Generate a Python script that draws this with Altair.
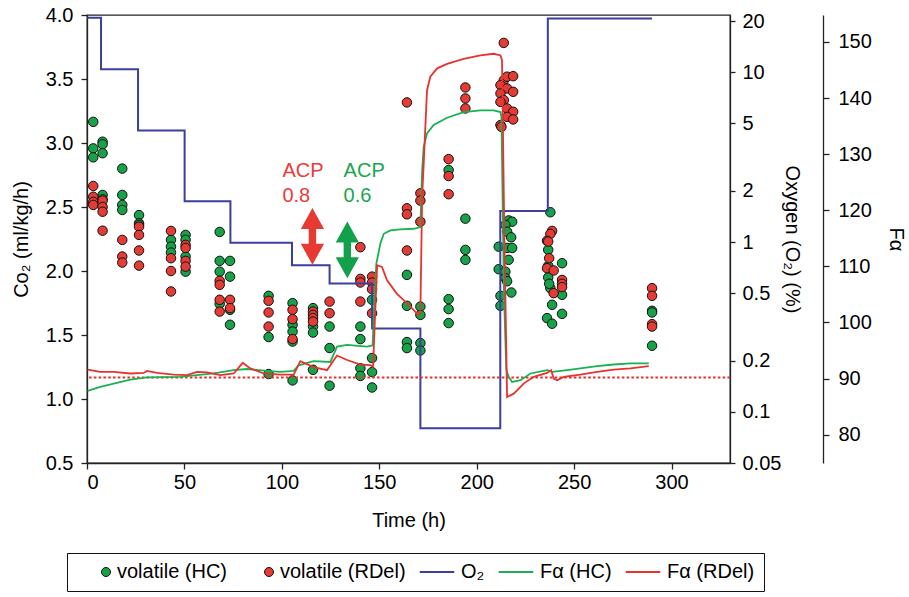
import altair as alt
import pandas as pd

FONT = "Liberation Sans"

# ---------------- data ----------------
# volatile CO2 (ml/kg/h), HC strain (green circles)
hc_time = [
    3.2, 3.2, 3.2,
    8.0, 8.0, 8.0, 8.0, 8.0,
    18.1, 18.1, 18.1, 18.1,
    26.7, 26.7, 26.7,
    43.1, 43.1, 43.1,
    50.6, 50.6, 50.6, 50.6,
    68.1, 68.1, 68.1, 68.1,
    73.4, 73.4, 73.4, 73.4,
    93.2, 93.2, 93.2,
    105.5, 105.5, 105.5, 105.5, 105.5,
    116.0, 116.0, 116.0, 116.0,
    124.5, 124.5, 124.5,
    140.3, 140.3, 140.3, 140.3,
    146.3, 146.3, 146.3, 146.3,
    164.2, 164.2, 164.2, 164.2,
    171.1, 171.1, 171.1, 171.1,
    185.6, 185.6, 185.6, 185.6,
    194.2, 194.2, 194.2,
    216.4, 218.2, 214.7, 215.6, 217.7, 211.3, 215.6, 218.2, 216.4, 211.3, 214.7, 214.7, 215.6, 217.8, 212.2, 212.2,
    237.8, 236.7, 243.8, 236.7, 237.8, 243.8, 238.7, 243.8, 236.1, 238.7, 236.7, 237.2,
    290.0, 290.0, 290.0,
]
hc_co2 = [
    3.165, 2.958, 2.888,
    3.01, 2.99, 2.92, 2.594, 2.56,
    2.80, 2.594, 2.516, 2.477,
    2.437, 2.373, 2.36,
    2.243, 2.19, 2.144,
    2.282, 2.243, 2.113, 1.995,
    2.305, 2.079, 1.995, 1.743,
    2.079, 1.956, 1.697, 1.58,
    1.806, 1.484, 1.195,
    1.749, 1.58, 1.527, 1.449, 1.145,
    1.71, 1.566, 1.519, 1.228,
    1.566, 1.398, 1.104,
    1.566, 1.468, 1.24, 1.18,
    1.775, 1.32, 1.21, 1.09,
    1.97, 1.728, 1.445, 1.398,
    1.722, 1.657, 1.437, 1.379,
    2.789, 1.78, 1.702, 1.593,
    2.409, 2.165, 2.087,
    2.395, 2.385, 2.36, 2.307, 2.263, 2.19, 2.18, 2.18, 2.087, 2.014, 1.995, 1.944, 1.92, 1.832, 1.806, 1.728,
    2.459, 2.165, 2.061, 1.95, 1.866, 1.814, 1.736, 1.665, 1.632, 1.588, 2.04, 1.90,
    1.689, 1.676, 1.416,
]

# volatile CO2 (ml/kg/h), RDel strain (red circles)
rdel_time = [
    3.2, 3.2, 3.2, 3.2,
    8.0, 8.0, 8.0, 8.0,
    18.1, 18.1, 18.1,
    26.7, 26.7, 26.7, 26.7,
    43.1, 43.1, 43.1, 43.1,
    50.6, 50.6, 50.6, 50.6,
    68.1, 68.1, 68.1, 68.1,
    73.4, 73.4,
    93.2, 93.2, 93.2,
    105.5, 105.5, 105.5,
    116.0, 116.0, 116.0, 116.0,
    124.5, 124.5,
    140.3, 140.3, 140.3, 140.3,
    146.3, 146.3, 146.3, 146.3,
    164.2, 164.2, 164.2, 164.2,
    171.1, 171.1, 171.1,
    185.6, 185.6, 185.6,
    194.2, 194.2, 194.2,
    213.9, 213.9, 215.6, 218.7, 212.2, 215.6, 218.7, 212.2, 213.9, 212.2, 215.6, 218.7, 215.6, 218.7, 212.2, 212.7,
    238.7, 237.8, 236.1, 236.7, 237.2, 236.1, 239.5, 243.8, 243.8, 243.8, 239.5,
    290.0, 290.0, 290.0, 290.0,
]
rdel_co2 = [
    2.664, 2.58, 2.54, 2.516,
    2.55, 2.50, 2.463, 2.315,
    2.243, 2.113, 2.066,
    2.346, 2.282, 2.16, 2.042,
    2.313, 2.10, 2.00, 1.84,
    2.204, 2.18, 2.079, 2.034,
    1.923, 1.892, 1.775, 1.683,
    1.775, 1.71,
    1.767, 1.676, 1.566,
    1.697, 1.624, 1.468,
    1.683, 1.657, 1.632, 1.605,
    1.761, 1.67,
    2.186, 1.938, 1.91, 1.761,
    1.956, 1.91, 1.858, 1.67,
    3.317, 2.49, 2.443, 2.16,
    2.607, 2.55, 2.385,
    2.874, 2.742, 2.60,
    3.434, 3.348, 3.27,
    3.782, 3.49, 3.518, 3.522, 3.452, 3.426, 3.40, 3.387, 3.335, 3.321, 3.27, 3.244, 3.204, 3.184, 3.14, 3.126,
    2.313, 2.29, 2.236, 2.23, 2.10, 2.022, 2.004, 1.93, 1.90, 1.874, 1.827,
    1.866, 1.806, 1.585, 1.566,
]

# oxygen set-point (%), step function
o2_time = [0, 7.2, 26.2, 50.1, 73.6, 105.2, 124.5, 146.3, 171.1, 212.1, 236.5, 290]
o2_pct = [20.9, 10.4, 4.54, 1.74, 0.99, 0.73, 0.57, 0.31, 0.08, 1.52, 20.7, 20.7]

# F-alpha traces
fa_hc_time = [0.3, 6.8, 13.7, 22.2, 30.8, 47.9, 65.0, 75.3, 82.1, 92.4, 99.2, 106.1, 108.6, 116.3, 124.9,
              126.6, 128.3, 133.5, 143.7, 146.6, 147.6, 148.5, 150.6, 152.3, 155.7, 160.8, 167.7, 171.1,
              172.0, 172.8, 174.5, 177.9, 184.8, 193.3, 201.9, 208.7, 212.2, 212.7, 214.0, 215.2, 216.4,
              218.2, 222.5, 227.6, 236.1, 238.7, 246.4, 253.2, 261.8, 270.3, 278.9, 288.3]
fa_hc = [87.8, 88.5, 89.1, 89.8, 90.2, 90.3, 90.9, 91.5, 91.7, 91.35, 91.2, 91.35, 92.35, 93.1, 92.95,
         94.3, 95.7, 96.0, 95.7, 95.9, 105.0, 110.5, 114.1, 115.8, 116.4, 116.6, 116.7, 117.0,
         127.1, 131.3, 133.7, 135.2, 136.5, 137.5, 137.8, 137.8, 137.5, 136.6, 105.0, 91.5, 90.3,
         89.4, 89.7, 90.9, 91.5, 91.2, 91.5, 91.8, 92.2, 92.5, 92.7, 92.7]
fa_rdel_time = [0.3, 6.8, 13.7, 22.2, 29.1, 30.8, 35.9, 44.5, 51.3, 56.5, 61.6, 68.4, 75.3, 79.9, 83.8,
                90.7, 99.2, 106.1, 109.5, 116.3, 123.2, 128.3, 133.5, 140.3, 145.4, 146.8, 147.7, 148.9,
                151.4, 154.0, 159.1, 164.3, 167.7, 170.2, 171.1, 172.0, 172.8, 174.5, 176.2, 179.7, 184.8,
                193.3, 201.9, 208.7, 212.2, 213.0, 214.2, 215.6, 219.0, 224.1, 229.3, 236.1, 238.2, 239.5,
                241.3, 244.7, 253.2, 261.8, 270.3, 278.9, 288.3]
fa_rdel = [91.6, 91.2, 91.2, 90.9, 91.0, 91.35, 91.0, 90.7, 90.6, 91.2, 91.1, 90.6, 90.9, 92.8, 91.8,
           90.9, 90.7, 90.7, 93.1, 92.05, 91.5, 94.1, 93.3, 92.5, 92.4, 92.05, 100.0, 110.2,
           109.9, 107.5, 105.1, 103.4, 102.2, 101.3, 101.9, 122.4, 128.3, 141.4, 143.8, 145.3, 146.1,
           147.0, 147.6, 147.9, 147.6, 146.7, 115.0, 86.7, 87.3, 89.1, 90.3, 91.0, 91.5, 90.0,
           89.7, 90.3, 90.7, 91.2, 91.6, 91.8, 92.2]
fa_reference = [90.2]

# annotations
ann_text = ["ACP", "0.8", "ACP", "0.6"]
ann_time = [100.3, 100.3, 131.7, 131.7]
ann_co2 = [2.736, 2.541, 2.736, 2.541]
ann_color = ["#ec3b3b", "#ec3b3b", "#1aa64e", "#1aa64e"]
arrow_time = [115.7, 133.6]
arrow_co2 = [2.27, 2.165]
arrow_color = ["#e63a33", "#12a04b"]

LABELS = ["volatile (HC)", "volatile (RDel)", "O₂", "Fα (HC)", "Fα (RDel)"]
COLORS = ["#17a24a", "#e53b35", "#3b3f9e", "#19b152", "#e8322e"]
OUTLINES = ["#111111", "#111111", "#3b3f9e", "#19b152", "#e8322e"]

# legend glyphs: a circle sitting just before its label, and a line segment
DOT = "M2.579,0A0.474,0.474 0 1,1 1.631,0A0.474,0.474 0 1,1 2.579,0Z"
SEG = "M-1.053,-0.053L2.526,-0.053L2.526,0.053L-1.053,0.053Z"
GLYPHS = [DOT, DOT, SEG, SEG, SEG]

# ---------------- tables ----------------
hc_df = pd.DataFrame({"t": hc_time, "co2": hc_co2})
rdel_df = pd.DataFrame({"t": rdel_time, "co2": rdel_co2})
o2_df = pd.DataFrame({"t": o2_time, "o2": o2_pct})
fa_hc_df = pd.DataFrame({"t": fa_hc_time, "fa": fa_hc})
fa_rdel_df = pd.DataFrame({"t": fa_rdel_time, "fa": fa_rdel})
ref_df = pd.DataFrame({"fa": fa_reference})
ann_df = pd.DataFrame({"t": ann_time, "co2": ann_co2, "s": ann_text, "c": ann_color})
arrow_df = pd.DataFrame({"t": arrow_time, "co2": arrow_co2, "c": arrow_color})
legend_df = pd.DataFrame({"series": LABELS})

xscale = alt.Scale(domain=[0, 330], nice=False, zero=False)
co2_scale = alt.Scale(domain=[0.5, 4.0], nice=False, zero=False)
o2_scale = alt.Scale(type="log", domain=[0.05, 21.7], nice=False)
fa_scale = alt.Scale(domain=[74.94, 154.81], nice=False, zero=False)

x_axis = alt.Axis(orient="bottom", values=[0, 50, 100, 150, 200, 250, 300], title="Time (h)",
                  titleX=321.5, titleY=57, titleBaseline="middle", titleAlign="center",
                  tickSize=6, labelPadding=3, grid=False)


def xenc():
    return alt.X("t:Q", scale=xscale, axis=x_axis)


co2_axis = alt.Axis(orient="left", values=[0.5, 1.0, 1.5, 2.0, 2.5, 3.0, 3.5, 4.0], format=".1f",
                    title="Co₂ (ml/kg/h)", titleX=-66, titleY=224, titleAngle=-90,
                    titleBaseline="middle", titleAlign="center", tickSize=6, labelPadding=8, grid=False)
o2_axis = alt.Axis(orient="right", values=[0.05, 0.1, 0.2, 0.5, 1, 2, 5, 10, 20], format="~g",
                   title="Oxygen (O₂) (%)", titleAngle=90, titleX=61, titleY=224,
                   titleBaseline="middle", titleAlign="center", tickSize=5, labelPadding=7, grid=False)
fa_axis = alt.Axis(orient="right", offset=93, values=[80, 90, 100, 110, 120, 130, 140, 150],
                   title="Fα", titleAngle=90, titleX=72, titleY=224, titleBaseline="middle",
                   titleAlign="center", tickSize=6, labelPadding=9, grid=False)

legend = alt.Legend(
    title=None, orient="none", legendX=-20, legendY=538, direction="horizontal", columns=5,
    columnPadding=11, padding=9, strokeColor="#111111", fillColor="white",
    labelFont=FONT, labelFontSize=20, labelColor="black", labelLimit=0, labelOffset=21,
    symbolSize=361, symbolStrokeWidth=1, symbolOpacity=1,
)

pt_style = dict(filled=True, size=90, stroke="#111111", strokeWidth=1, opacity=1)
points_hc = alt.Chart(hc_df).mark_point(color=COLORS[0], **pt_style).encode(
    x=xenc(),
    y=alt.Y("co2:Q", scale=co2_scale, axis=co2_axis),
)
points_rdel = alt.Chart(rdel_df).mark_point(color=COLORS[1], **pt_style).encode(
    x=xenc(),
    y=alt.Y("co2:Q", scale=co2_scale, axis=None),
)

ARROW = "M0,-1L0.41,-0.26L0.13,-0.26L0.13,0.26L0.41,0.26L0,1L-0.41,0.26L-0.13,0.26L-0.13,-0.26L-0.41,-0.26Z"
arrows = alt.Chart(arrow_df).mark_point(shape=ARROW, filled=True, size=3215, opacity=1, strokeWidth=0).encode(
    x=xenc(),
    y=alt.Y("co2:Q", scale=co2_scale, axis=None),
    fill=alt.Fill("c:N", scale=None, legend=None),
)
texts = alt.Chart(ann_df).mark_text(align="left", baseline="alphabetic", fontSize=20, font=FONT).encode(
    x=xenc(),
    y=alt.Y("co2:Q", scale=co2_scale, axis=None),
    text="s:N",
    fill=alt.Fill("c:N", scale=None, legend=None),
)

o2_line = alt.Chart(o2_df).mark_line(interpolate="step-after", strokeWidth=2, color=COLORS[2]).encode(
    x=xenc(),
    y=alt.Y("o2:Q", scale=o2_scale, axis=o2_axis),
)

ref_rule = alt.Chart(ref_df).mark_rule(color="#e8322e", strokeWidth=2, strokeDash=[2.6, 2.2]).encode(
    y=alt.Y("fa:Q", scale=fa_scale, axis=None),
)
fa_hc_line = alt.Chart(fa_hc_df).mark_line(strokeWidth=1.8, color=COLORS[3]).encode(
    x=xenc(),
    y=alt.Y("fa:Q", scale=fa_scale, axis=fa_axis),
)
fa_rdel_line = alt.Chart(fa_rdel_df).mark_line(strokeWidth=1.8, color=COLORS[4]).encode(
    x=xenc(),
    y=alt.Y("fa:Q", scale=fa_scale, axis=None),
)

# legend-only layer (no rows pass the filter, so nothing is drawn in the plot)
legend_layer = alt.Chart(legend_df).transform_filter("false").mark_point(filled=True, opacity=1).encode(
    color=alt.Color("series:N", scale=alt.Scale(domain=LABELS, range=COLORS), legend=legend),
    stroke=alt.Stroke("series:N", scale=alt.Scale(domain=LABELS, range=OUTLINES), legend=legend),
    shape=alt.Shape("series:N", scale=alt.Scale(domain=LABELS, range=GLYPHS), legend=legend),
)

chart = (
    alt.layer(points_hc, points_rdel, arrows, texts, o2_line, ref_rule, fa_hc_line, fa_rdel_line,
              legend_layer)
    .resolve_scale(y="independent")
    .properties(width=643, height=448,
                padding={"left": 87, "top": 15, "right": 179, "bottom": 134},
                autosize=alt.AutoSizeParams(type="none"), background="white")
    .configure(font=FONT)
    .configure_view(stroke="#222222", strokeWidth=1.3)
    .configure_axis(labelFont=FONT, titleFont=FONT, labelFontSize=20, titleFontSize=20,
                    labelColor="black", titleColor="black", titleFontWeight="normal",
                    domainColor="#222222", tickColor="#222222", domainWidth=1.3, tickWidth=1.3)
)

chart.save("out.html", embed_options={"renderer": "svg", "actions": False})
